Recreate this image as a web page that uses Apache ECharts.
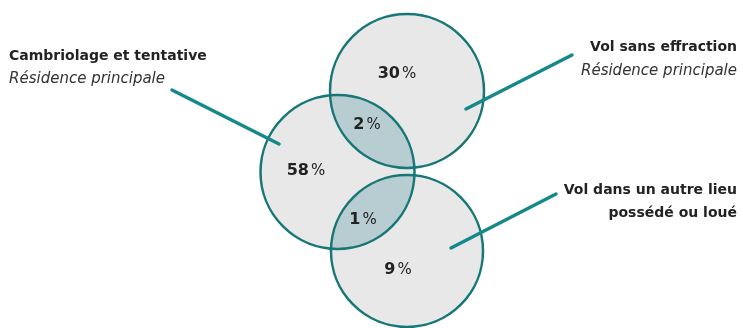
<!DOCTYPE html>
<html><head><meta charset="utf-8">
<script src="https://cdn.jsdelivr.net/npm/echarts@6/dist/echarts.min.js"></script>
<style>html,body{margin:0;padding:0;background:#fff}#c{width:743px;height:328px}</style>
</head><body><div id="c"></div>
<script>
// ---- data ----
const categories = ['Cambriolage et tentative', 'Vol sans effraction', 'Vol dans un autre lieu'];
const subtitles = ['Résidence principale', 'Résidence principale', 'possédé ou loué'];
const setValues = [58, 30, 9];
const overlapPairs = [[0, 1], [0, 2]];
const overlapValues = [2, 1];

// ---- layout (data-space units of the hidden axes) ----
const circleLayout = [{x: 337.5, y: 172, r: 77}, {x: 407, y: 91, r: 77}, {x: 407, y: 251, r: 76}];
const valueLabelPos = [[306, 171], [397, 74], [398, 270]];
const overlapLabelPos = [[367, 125], [363, 220]];
const leaderLines = [[[172, 90], [279, 144]], [[572, 55], [466, 109]], [[556, 194], [451, 248]]];
const titleLayout = [
  {x: 9, y1: 56, y2: 79, align: 'left', italicSub: true},
  {x: 737, y1: 47, y2: 71, align: 'right', italicSub: true},
  {x: 737, y1: 190.5, y2: 213.5, align: 'right', italicSub: false}
];

const FONT = '"DejaVu Sans", sans-serif';
const FILL = '#e8e8e8', LENS = '#b7cdd1', STROKE = '#177777', LEADER = '#15898a', TXT = '#222222';

function circPx(api, i) {
  const c = circleLayout[i];
  const p = api.coord([c.x, c.y]);
  return {x: p[0], y: p[1], r: api.size([c.r, c.r])[0]};
}
function lensPoints(c1, c2) {
  const dx = c2.x - c1.x, dy = c2.y - c1.y, d = Math.hypot(dx, dy);
  const a = (c1.r * c1.r - c2.r * c2.r + d * d) / (2 * d);
  const t = Math.atan2(dy, dx);
  const a1 = Math.acos(a / c1.r), a2 = Math.acos((d - a) / c2.r);
  const pts = [], n = 60;
  for (let k = 0; k <= n; k++) { const ang = t - a1 + 2 * a1 * k / n; pts.push([c1.x + c1.r * Math.cos(ang), c1.y + c1.r * Math.sin(ang)]); }
  for (let k = 0; k <= n; k++) { const ang = t + Math.PI - a2 + 2 * a2 * k / n; pts.push([c2.x + c2.r * Math.cos(ang), c2.y + c2.r * Math.sin(ang)]); }
  return pts;
}
const pctRich = {
  n: {fontFamily: FONT, fontWeight: 'bold', fontSize: 16, fill: TXT},
  p: {fontFamily: FONT, fontSize: 15, fill: TXT, padding: [0, 0, 0, 2]}
};

const chart = echarts.init(document.getElementById('c'));
chart.setOption({
  animation: false,
  grid: {left: 0, right: 0, top: 0, bottom: 0},
  xAxis: {type: 'value', min: 0, max: 743, show: false},
  yAxis: {type: 'value', min: 0, max: 328, inverse: true, show: false},
  series: [
    { type: 'custom', z: 1, data: setValues.map((v, i) => [i, v]),
      renderItem: (params, api) => { const c = circPx(api, params.dataIndex);
        return {type: 'circle', shape: {cx: c.x, cy: c.y, r: c.r}, style: {fill: FILL}}; } },
    { type: 'custom', z: 2, data: overlapValues.map((v, i) => [i, v]),
      renderItem: (params, api) => { const pr = overlapPairs[params.dataIndex];
        return {type: 'polygon', shape: {points: lensPoints(circPx(api, pr[0]), circPx(api, pr[1]))}, style: {fill: LENS}}; } },
    { type: 'custom', z: 3, data: setValues.map((v, i) => [i, v]),
      renderItem: (params, api) => { const c = circPx(api, params.dataIndex);
        return {type: 'circle', shape: {cx: c.x, cy: c.y, r: c.r}, style: {fill: 'none', stroke: STROKE, lineWidth: 2.5}}; } },
    { type: 'custom', z: 4, data: categories.map((c, i) => [i]),
      renderItem: (params, api) => { const l = leaderLines[params.dataIndex];
        const p1 = api.coord(l[0]), p2 = api.coord(l[1]);
        return {type: 'line', shape: {x1: p1[0], y1: p1[1], x2: p2[0], y2: p2[1]}, style: {stroke: LEADER, lineWidth: 3.5, lineCap: 'round'}}; } },
    { type: 'custom', z: 5, data: categories.map((c, i) => [i]),
      renderItem: (params, api) => { const i = params.dataIndex, t = titleLayout[i];
        const p1 = api.coord([t.x, t.y1]), p2 = api.coord([t.x, t.y2]);
        return {type: 'group', children: [
          {type: 'text', style: {text: categories[i], x: p1[0], y: p1[1], align: t.align, verticalAlign: 'middle', fontFamily: FONT, fontWeight: 'bold', fontSize: 14, fill: TXT}},
          {type: 'text', style: {text: subtitles[i], x: p2[0], y: p2[1], align: t.align, verticalAlign: 'middle', fontFamily: FONT, fontWeight: t.italicSub ? 'normal' : 'bold', fontStyle: t.italicSub ? 'italic' : 'normal', fontSize: t.italicSub ? 15 : 14, fill: t.italicSub ? '#333' : TXT}}
        ]}; } },
    { type: 'custom', z: 6, data: setValues.map((v, i) => [i, v]),
      renderItem: (params, api) => { const p = api.coord(valueLabelPos[params.dataIndex]);
        return {type: 'text', style: {text: '{n|' + setValues[params.dataIndex] + '}{p|%}', rich: pctRich, x: p[0], y: p[1], align: 'center', verticalAlign: 'middle'}}; } },
    { type: 'custom', z: 6, data: overlapValues.map((v, i) => [i, v]),
      renderItem: (params, api) => { const p = api.coord(overlapLabelPos[params.dataIndex]);
        return {type: 'text', style: {text: '{n|' + overlapValues[params.dataIndex] + '}{p|%}', rich: pctRich, x: p[0], y: p[1], align: 'center', verticalAlign: 'middle'}}; } }
  ]
});
</script></body></html>
